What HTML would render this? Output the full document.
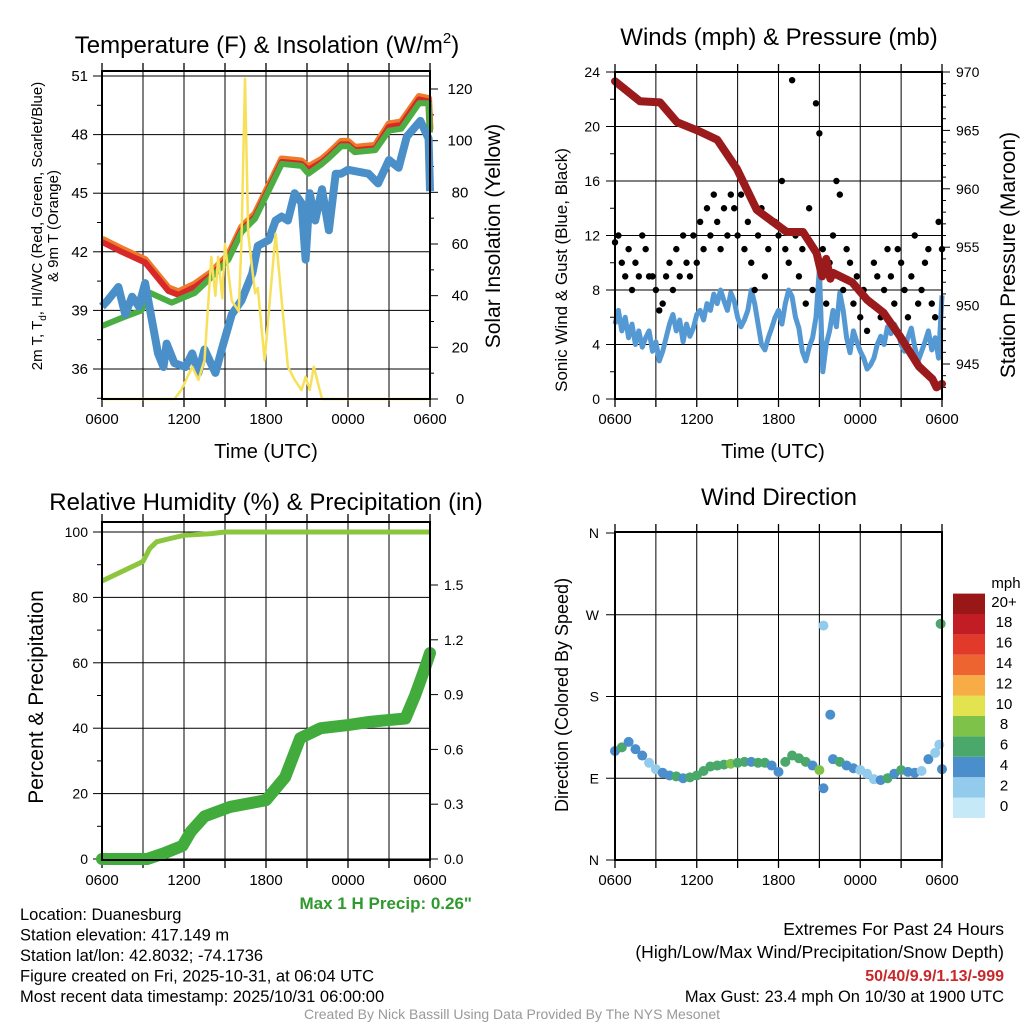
<!DOCTYPE html>
<html><head><meta charset="utf-8"><style>
body{margin:0;background:#fff;}
svg text{font-family:"Liberation Sans",sans-serif;}
</style></head><body>
<svg id="s" width="1024" height="1024" viewBox="0 0 1024 1024" xmlns="http://www.w3.org/2000/svg">
<rect width="1024" height="1024" fill="#fff"/>
</svg>
<script>
// ---------- data (hours since 0600 UTC) ----------
const xTickLabels=["0600","1200","1800","0000","0600"];
const tHours=[0,1.44,3.15,4.85,5.6,6.8,8.0,9.25,10.2,11.2,11.9,13.15,14.6,15.1,16.1,16.6,17.5,18,18.5,20,21,21.9,23.2,23.9,24];
const tempRed=[42.5,42.0,41.45,40.0,39.8,40.2,40.8,41.7,43.1,43.8,44.8,46.6,46.5,46.2,46.6,46.9,47.5,47.5,47.2,47.3,48.4,48.5,49.8,49.7,48.1];
const greenHours=[0,1.4,2.9,3.5,5.1,6.8,8.0,9.25,10.2,11.2,11.9,13.15,14.6,15.1,16.1,16.6,17.5,18,18.5,20,21,21.9,23.2,23.9,24];
const tempGreen=[38.2,38.6,39.0,39.9,39.4,39.9,40.7,41.6,43.0,43.7,44.7,46.5,46.4,46.0,46.5,46.8,47.4,47.4,47.1,47.2,48.2,48.3,49.6,49.6,48.1];
const dewHours=[0,0.4,1.2,1.7,2.2,2.7,3.15,3.6,4.1,4.5,4.73,5.3,6.1,6.6,7.05,7.5,8.3,8.8,9.5,10.2,11,11.4,12.2,12.7,13.15,13.6,14.1,14.6,14.9,15.2,15.6,16.1,16.6,17.1,17.5,18,19.5,20.2,21,21.7,22.3,23.3,23.9,24];
const dewBlue=[39.2,39.5,40.2,38.8,39.7,39.2,40.4,38.7,36.8,36.1,37.3,36.3,36.1,36.8,35.8,37.0,35.8,37.1,38.8,39.5,40.9,42.3,42.6,43.6,43.8,43.6,45.0,44.5,41.6,45.0,43.6,45.2,43.1,46.0,46.0,46.2,46.0,45.5,46.7,46.3,47.9,48.7,47.8,45.1];
const solarHours=[0,5.3,5.8,6.6,7.05,7.5,8.0,8.3,8.5,8.8,9.0,9.5,10,10.2,10.46,10.7,11,11.2,11.4,11.9,12.7,13.15,13.6,14.1,14.6,14.9,15.2,15.5,16.1,24];
const solar=[0,0,3.5,12.5,7.4,15,55,40,55,39,60,38,34,60,124,64,50,41,43,15,64,38,12.5,7.4,3.5,8.6,3.5,12.5,0,0];
const pHours=[0,1.83,3.3,4.55,6.24,7.5,8.95,10.4,12.6,13.8,14.8,15.2,15.5,15.8,16,17.4,18.5,19.7,20.9,22.3,23.3,23.6,24];
const pressure=[969.2,967.5,967.4,965.7,964.9,964.2,961.7,958.2,956.3,956.3,954.5,952.5,954.0,952.3,952.8,952.0,950.5,949.4,947.4,944.8,943.7,943.0,943.3];
const windSpeed=[5.5,6.5,5,6,4.5,5.5,4,5,3.8,4.5,5,3.5,4.2,
2.8,3.5,4.5,5.5,6.2,5,5.8,4.2,5.5,4.6,5.2,6.2,
6.5,5.8,7,6.5,7.7,7,8,7.2,6.5,7.8,7.2,6,
5.3,5.8,6.5,8,7,5.5,4,3.6,4.5,5.2,6,6.5,
5.5,7,8,7.5,6,5.2,3.5,2.8,3.8,4.5,6,9.6,
2,4,5,6.5,5.3,7.8,6.5,4.5,3.4,5,4.2,3.5,
3,2.2,2.5,3,4,4.6,4,5.3,4.8,5.5,5,4,
3.5,4.5,5.2,3.8,2.8,3.5,4.2,5,3.6,4.5,3,7.6];
const gusts=[11.5,12,10,9,11,8,10,9,12,11,9,
9,8,6.5,7,9,10,8,11,9,12,10,9,
12,10,13,11,14,12,15,13,11,14,12,15,
14,12,15,11,13,10,8,12,14,9,11,13,
13,12,16,11,10,23.4,12,9,11,7,14,8,
21.7,19.5,11,7,10,12,16,15,8,11,10,7,
9,6,8,5,7,10,9,6,8,11,9,7,
11,10,8,6,9,12,7,8,10,11,7,6,13,11];
const dirHours=[0,0.5,1,1.5,2,2.5,3,3.5,4,4.5,5,5.5,6,6.5,7,7.5,8,8.5,9,9.5,10,10.5,11,11.5,12,12.5,13,13.5,14,14.5,15,15.3,15.3,15.8,16,16.5,17,17.5,18,18.5,19,19.5,20,20.5,21,21.5,22,22.5,23,23.5,23.8,23.9,24];
const direction=[120,124,130,122,115,107,100,96,93,92,90,91,93,98,103,104,105,106,107,108,108,107,107,104,97,108,115,112,108,104,99,258,79,160,111,108,104,101,99,95,89,88,90,95,99,97,96,98,111,118,127,260,100];
const dirSpeed=[4,6,4,4,4,3,3,4,4,6,4,6,6,7,6,7,6,8,7,6,5,7,6,4,5,7,6,7,6,5,8,2,4,4,4,7,5,4,3,2,3,4,6,5,6,4,5,3,4,3,2,6,4];
const rhHours=[0,1.5,2.5,3,3.5,4,5,6,8,9,24];
const rh=[85,88,90,91,95,97,98,99,99.5,100,100];
const precipHours=[0,3.3,4.5,5.9,6.5,7.5,9.4,12,13.4,14.5,16,18,19.6,22.2,22.9,23.6,24];
const precip=[0,0,0.03,0.072,0.15,0.233,0.286,0.322,0.447,0.662,0.716,0.733,0.751,0.769,0.894,1.038,1.127];
const cbLabels=["0","2","4","6","8","10","12","14","16","18","20+"];
const cbColors=["#c6e9f7","#92cbeb","#4a8fcb","#4aa86a","#7fc24a","#e3e24f","#f7ac45","#ee6430","#e23a2a","#c21d24","#9a1718"];

// ---------- helpers ----------
const S=document.getElementById('s');
const NS="http://www.w3.org/2000/svg";
function el(tag,attrs,parent){const e=document.createElementNS(NS,tag);for(const k in attrs)e.setAttribute(k,attrs[k]);(parent||S).appendChild(e);return e;}
function txt(x,y,s,size,anchor,parent,extra){const t=el('text',Object.assign({x:x,y:y,'font-size':size,'text-anchor':anchor||'middle',fill:'#000'},extra||{}),parent);t.textContent=s;return t;}
function lin(d0,d1,r0,r1){return v=>r0+(v-d0)/(d1-d0)*(r1-r0);}
function path(xs,ys,fx,fy){return xs.map((h,i)=>(i?'L':'M')+fx(h).toFixed(1)+','+fy(ys[i]).toFixed(1)).join('');}

function frame(g,L,T,R,B,fx){
  for(let h=0;h<=24;h+=3){const x=fx(h);
    if(h>0&&h<24) el('line',{x1:x,y1:T,x2:x,y2:B,stroke:'#000','stroke-width':1},g);
    el('line',{x1:x,y1:B,x2:x,y2:B+8,stroke:'#000','stroke-width':1.3},g);
    el('line',{x1:x,y1:T-8,x2:x,y2:T,stroke:'#000','stroke-width':1.3},g);
    if(h%6===0){const t=txt(x,B+25,xTickLabels[h/6],15,'middle',g);
    
    }
  }
}

// ======== Panel 1: Temperature ========
(function(){
const g=el('g',{});  
const L=102,R=430,T=71,B=399;
const fx=lin(0,24,L,R), fy=lin(36,51,369,76), fs=lin(0,120,399,89);
frame(g,L,T,R,B,fx);
[36,39,42,45,48,51].forEach(v=>{el('line',{x1:L,y1:fy(v),x2:R,y2:fy(v),stroke:'#000'},g);el('line',{x1:L-9,y1:fy(v),x2:L,y2:fy(v),stroke:'#000'},g);
  const t=txt(L-14,fy(v)+5,v,15,'end',g);});
for(let v=34.5;v<51.5;v+=1.5){if(v%3) el('line',{x1:L-5,y1:fy(v),x2:L,y2:fy(v),stroke:'#000'},g);}
[0,20,40,60,80,100,120].forEach(v=>{el('line',{x1:R,y1:fs(v),x2:R+8,y2:fs(v),stroke:'#000'},g);
  const t=txt(R+30,fs(v)+5,v,15,'middle',g);});
for(let v=10;v<130;v+=20) el('line',{x1:R,y1:fs(v),x2:R+4,y2:fs(v),stroke:'#000'},g);
let p;
p=el('path',{d:path(tHours,tempRed.map(v=>v+0.15),fx,fy),fill:'none',stroke:'#ef7a2a','stroke-width':7,'stroke-linejoin':'round'},g);
p=el('path',{d:path(tHours,tempRed,fx,fy),fill:'none',stroke:'#d7282a','stroke-width':6,'stroke-linejoin':'round'},g);
p=el('path',{d:path(greenHours,tempGreen,fx,fy),fill:'none',stroke:'#4cad43','stroke-width':6,'stroke-linejoin':'round'},g);
p=el('path',{d:path(dewHours,dewBlue,fx,fy),fill:'none',stroke:'#4a8fc8','stroke-width':8,'stroke-linejoin':'round'},g);
p=el('path',{d:path(solarHours,solar,fx,fs),fill:'none',stroke:'#f7e05a','stroke-width':2.5,'stroke-linejoin':'round'},g);
el('rect',{x:L,y:T,width:R-L,height:B-T,fill:'none',stroke:'#000','stroke-width':2},g);
let t=txt(267,53,'Temperature (F) & Insolation (W/m',24,'middle',g);
const sup=el('tspan',{dy:-10,'font-size':15},t);sup.textContent='2';const cl=el('tspan',{dy:10},t);cl.textContent=')';
t=txt(266,458,'Time (UTC)',20,'middle',g);
t=txt(0,0,'Solar Insolation (Yellow)',21,'middle',g,{transform:'translate(500,236) rotate(-90)'});
t=txt(0,0,'2m T, T',15,'middle',g,{transform:'translate(42,226) rotate(-90)'});
const sb=el('tspan',{dy:4,'font-size':10},t);sb.textContent='d';const r2=el('tspan',{dy:-4},t);r2.textContent=', HI/WC (Red, Green, Scarlet/Blue)';

t=txt(0,0,'& 9m T (Orange)',15,'middle',g,{transform:'translate(58,226) rotate(-90)'});
})();

// ======== Panel 2: Winds ========
(function(){
const g=el('g',{});  
const L=615,R=942,T=72,B=399;
const fx=lin(0,24,L,R), fy=lin(0,24,399,72), fp=lin(945,970,364,72);
frame(g,L,T,R,B,fx);
[0,4,8,12,16,20,24].forEach(v=>{el('line',{x1:L,y1:fy(v),x2:R,y2:fy(v),stroke:'#000'},g);el('line',{x1:L-9,y1:fy(v),x2:L,y2:fy(v),stroke:'#000'},g);
  const t=txt(L-15,fy(v)+5,v,14,'end',g);});
for(let v=2;v<24;v+=4) el('line',{x1:L-5,y1:fy(v),x2:L,y2:fy(v),stroke:'#000'},g);
[945,950,955,960,965,970].forEach(v=>{el('line',{x1:R,y1:fp(v),x2:R+8,y2:fp(v),stroke:'#000'},g);
  const t=txt(R+14,fp(v)+5,v,14,'start',g);});
for(let v=943;v<970;v+=1){if(v%5) el('line',{x1:R,y1:fp(v),x2:R+4,y2:fp(v),stroke:'#000'},g);}
let p=el('path',{d:path(windSpeed.map((v,i)=>i*0.25),windSpeed,fx,fy),fill:'none',stroke:'#5599d4','stroke-width':5,'stroke-linejoin':'round'},g);
gusts.forEach((v,i)=>{const c=el('circle',{cx:fx(i*0.25),cy:fy(v),r:3.2,fill:'#000'},g);
  
  });
p=el('path',{d:path(pHours,pressure,fx,fp),fill:'none',stroke:'#9b1a1c','stroke-width':8,'stroke-linejoin':'round','stroke-linecap':'round'},g);
el('rect',{x:L,y:T,width:R-L,height:B-T,fill:'none',stroke:'#000','stroke-width':2},g);
let t=txt(779,45,'Winds (mph) & Pressure (mb)',24,'middle',g);
t=txt(773,458,'Time (UTC)',20,'middle',g);
t=txt(0,0,'Sonic Wind & Gust (Blue, Black)',17,'middle',g,{transform:'translate(567,270) rotate(-90)'});
t=txt(0,0,'Station Pressure (Maroon)',21,'middle',g,{transform:'translate(1015,255) rotate(-90)'});
})();

// ======== Panel 3: RH & Precip ========
(function(){
const g=el('g',{});  
const L=102,R=430,T=522,B=860;
const fx=lin(0,24,L,R), fy=lin(0,100,859,532), fi=lin(0,1.5,859,585);
frame(g,L,T,R,B,fx);
[0,20,40,60,80,100].forEach(v=>{el('line',{x1:L,y1:fy(v),x2:R,y2:fy(v),stroke:'#000'},g);el('line',{x1:L-9,y1:fy(v),x2:L,y2:fy(v),stroke:'#000'},g);
  const t=txt(L-14,fy(v)+5,v,14,'end',g);});
for(let v=10;v<100;v+=20) el('line',{x1:L-5,y1:fy(v),x2:L,y2:fy(v),stroke:'#000'},g);
[0,0.3,0.6,0.9,1.2,1.5].forEach(v=>{el('line',{x1:R,y1:fi(v),x2:R+8,y2:fi(v),stroke:'#000'},g);
  const t=txt(R+14,fi(v)+5,v.toFixed(1),14,'start',g);});
let p=el('path',{d:path(rhHours,rh,fx,fy),fill:'none',stroke:'#8cc63f','stroke-width':5},g);
p=el('path',{d:path(precipHours,precip,fx,fi),fill:'none',stroke:'#41ab3b','stroke-width':12,'stroke-linejoin':'round','stroke-linecap':'round'},g);
el('rect',{x:L,y:T,width:R-L,height:B-T,fill:'none',stroke:'#000','stroke-width':2},g);
let t=txt(266,510,'Relative Humidity (%) & Precipitation (in)',24,'middle',g);
t=txt(0,0,'Percent & Precipitation',21,'middle',g,{transform:'translate(43,697) rotate(-90)'});
t=txt(472,909,'Max 1 H Precip: 0.26"',17,'end',g,{fill:'#2e9a2e','font-weight':'bold'});
})();

// ======== Panel 4: Wind direction ========
(function(){
const g=el('g',{});  
const L=615,R=942,T=532,B=860;
const fx=lin(0,24,L,R), fy=lin(0,360,860,533);
frame(g,L,T,R,B,fx);
const dl=["N","E","S","W","N"];
[0,90,180,270,360].forEach((v,i)=>{if(i>0&&i<4)el('line',{x1:L,y1:fy(v),x2:R,y2:fy(v),stroke:'#000'},g);el('line',{x1:L-9,y1:fy(v),x2:L,y2:fy(v),stroke:'#000'},g);
  const t=txt(L-16,fy(v)+5,dl[i],14,'end',g);});
direction.forEach((d,i)=>{const ci=Math.min(10,Math.floor(dirSpeed[i]/2));
  const c=el('circle',{cx:fx(dirHours[i]),cy:fy(d),r:5,fill:cbColors[ci]},g);
  
  });
el('rect',{x:L,y:T,width:R-L,height:B-T,fill:'none',stroke:'#000','stroke-width':2},g);
let t=txt(779,505,'Wind Direction',24,'middle',g);
t=txt(0,0,'Direction (Colored By Speed)',18,'middle',g,{transform:'translate(568,695) rotate(-90)'});
const cb=el('g',{},g);
const h=20.4;
cbColors.forEach((c,i)=>{el('rect',{x:953,y:818-(i+1)*h,width:32,height:h,fill:c},cb);
  const tl=txt(1004,818-(i+1)*h+h/2+3,cbLabels[i],15,'middle',cb);});
t=txt(1006,588,'mph',15,'middle',cb);
})();

// ======== footer text ========
const info=["Location: Duanesburg","Station elevation: 417.149 m","Station lat/lon: 42.8032; -74.1736","Figure created on Fri, 2025-10-31, at 06:04 UTC","Most recent data timestamp: 2025/10/31 06:00:00"];
info.forEach((s,i)=>{const t=txt(20,920+i*20.5,s,16.5,'start');});
let t=txt(1004,935,'Extremes For Past 24 Hours',17.5,'end');
t=txt(1004,958,'(High/Low/Max Wind/Precipitation/Snow Depth)',17.5,'end');
t=txt(1004,981,'50/40/9.9/1.13/-999',16,'end',null,{fill:'#c9282a','font-weight':'bold'});
t=txt(1004,1002,'Max Gust: 23.4 mph On 10/30 at 1900 UTC',16.5,'end');
t=txt(512,1019,'Created By Nick Bassill Using Data Provided By The NYS Mesonet',14,'middle',null,{fill:'#999'});
</script>
</body></html>
